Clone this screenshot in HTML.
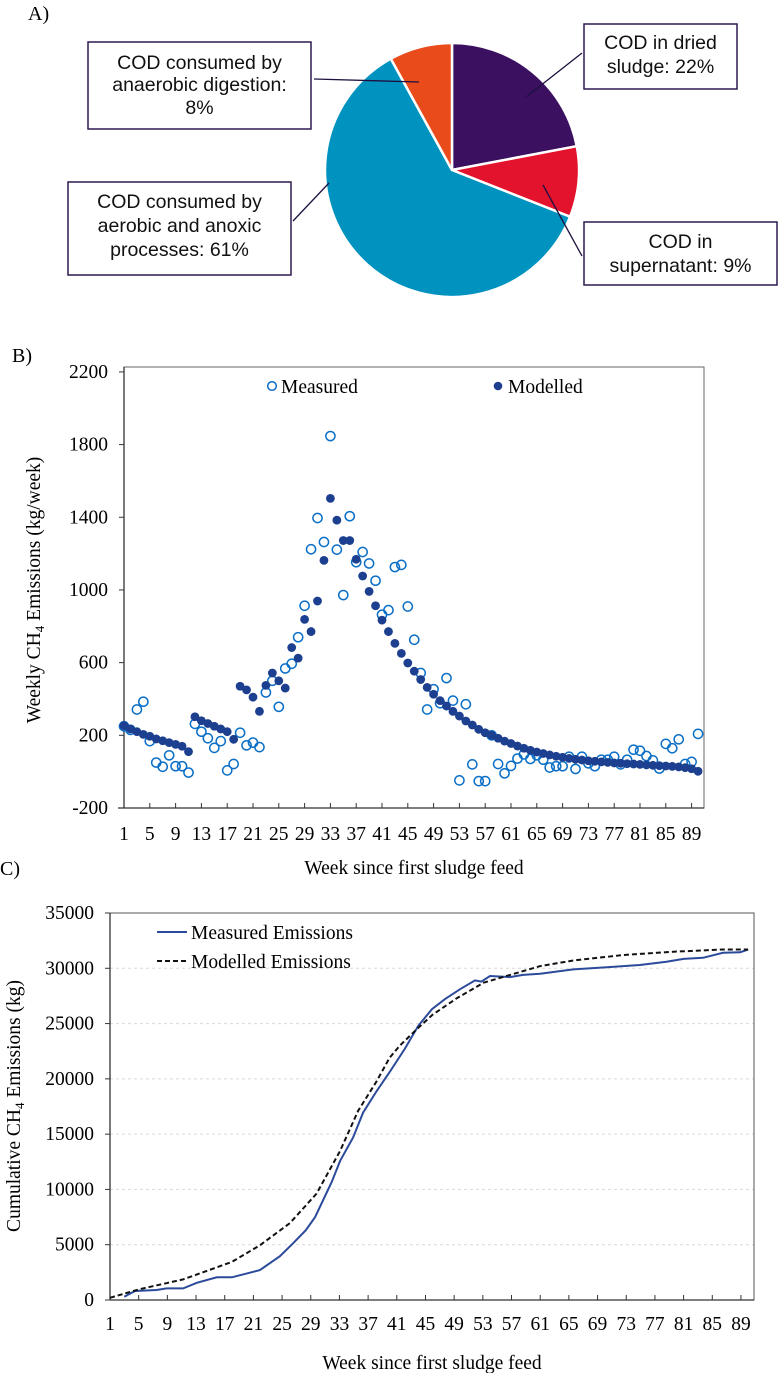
<!DOCTYPE html>
<html><head><meta charset="utf-8"><style>
html,body{margin:0;padding:0;background:#fff}
svg{display:block}
.serif{font-family:"Liberation Serif",serif}
.sans{font-family:"Liberation Sans",sans-serif}
</style></head><body>
<svg id="fig" width="778" height="1373" viewBox="0 0 778 1373" xmlns="http://www.w3.org/2000/svg">
<g id="panelA">
<text class="serif" x="28" y="20" font-size="20">A)</text>
<g id="pie"></g>
<line x1="314" y1="79" x2="419" y2="82" stroke="#1e1140" stroke-width="1.3"/>
<line x1="293" y1="221" x2="329" y2="183" stroke="#1e1140" stroke-width="1.3"/>
<line x1="582" y1="53" x2="526" y2="97" stroke="#1e1140" stroke-width="1.3"/>
<line x1="582" y1="256" x2="543" y2="185" stroke="#1e1140" stroke-width="1.3"/>
<g>
<rect x="88" y="42" width="223" height="87" fill="#fff" stroke="#2e1a4f" stroke-width="1.5"/>
<text class="sans" font-size="19.5" text-anchor="middle" fill="#111"><tspan x="199.5" y="69">COD consumed by</tspan><tspan x="199.5" y="91">anaerobic digestion:</tspan><tspan x="199.5" y="114">8%</tspan></text></g>
<g>
<rect x="68" y="182" width="223" height="93" fill="#fff" stroke="#2e1a4f" stroke-width="1.5"/>
<text class="sans" font-size="19.5" text-anchor="middle" fill="#111"><tspan x="179.5" y="208">COD consumed by</tspan><tspan x="179.5" y="232">aerobic and anoxic</tspan><tspan x="179.5" y="256">processes: 61%</tspan></text></g>
<g>
<rect x="584" y="24" width="153" height="65" fill="#fff" stroke="#2e1a4f" stroke-width="1.5"/>
<text class="sans" font-size="19.5" text-anchor="middle" fill="#111"><tspan x="660.5" y="49">COD in dried</tspan><tspan x="660.5" y="73">sludge: 22%</tspan></text></g>
<g>
<rect x="584" y="222" width="193" height="63" fill="#fff" stroke="#2e1a4f" stroke-width="1.5"/>
<text class="sans" font-size="19.5" text-anchor="middle" fill="#111"><tspan x="680.5" y="248">COD in</tspan><tspan x="680.5" y="272">supernatant: 9%</tspan></text></g>
</g>
<g id="panelB"></g>
<g id="panelC"></g>
</svg>
<script>
// ---------- Pie data ----------
const pieLabels = ["dried-sludge","supernatant","aerobic-anoxic","anaerobic"];
const pieValues = [22, 9, 61, 8];
const pieColors = ["#3b1060","#e3132e","#0093c0","#e94b1b"];

// ---------- Chart B data ----------
const bWeeks = Array.from({length:90},(_,i)=>i+1);
const bModelled = [253,235,220,205,195,180,170,160,150,140,110,302,280,265,250,235,220,178,470,450,410,332,475,543,500,460,683,625,838,771,939,1163,1504,1384,1272,1272,1169,1077,992,913,834,771,706,651,598,553,507,464,426,391,361,332,306,279,257,233,214,200,184,168,155,141,129,118,108,100,92,85,79,73,68,64,60,57,54,51,48,46,44,42,40,37,35,33,31,29,26,22,16,2];
const bMeasured = [250,230,342,385,168,50,27,90,30,30,-5,263,220,184,131,168,7,42,214,145,160,135,436,500,357,568,594,740,913,1224,1396,1264,1847,1222,972,1406,1153,1209,1146,1051,864,889,1126,1138,909,726,543,342,454,377,515,391,-48,371,40,-52,-52,200,42,-9,32,72,95,70,90,66,23,30,30,82,15,82,46,30,66,66,82,40,66,121,115,86,62,17,153,129,178,42,54,208];
const bYTicks = [-200,200,600,1000,1400,1800,2200];
const bXTicks = [1,5,9,13,17,21,25,29,33,37,41,45,49,53,57,61,65,69,73,77,81,85,89];

// ---------- Chart C data ----------
const cMeasWeeks = [3,4.5,7.5,8.9,11.2,13.1,15.9,18,21.9,24.7,26.5,28.3,29.6,31.9,33.1,34.9,36.3,38.2,40.1,42.1,44,45.9,47.7,49.8,51.9,52.8,54,56.8,58.6,61,65.6,70.3,74.9,78.6,81,83.7,86.5,88.9,90];
const cMeasured = [300,810,900,1050,1050,1560,2050,2050,2700,3960,5100,6300,7500,10650,12600,14700,16950,18900,20700,22700,24800,26300,27200,28100,28900,28800,29300,29200,29400,29500,29900,30100,30300,30600,30850,30950,31400,31450,31700];
const cModWeeks = [1,5,11.2,18,21.9,26.1,29.8,33.1,35.6,38.2,40,41.4,43.8,46,49.4,53.1,56.8,61,65.6,72.6,79.6,86.5,90];
const cModelled = [200,960,1860,3450,4950,6960,9610,13500,17100,19800,21900,23000,24500,25800,27300,28700,29400,30200,30700,31200,31500,31700,31700];
const cYTicks = [0,5000,10000,15000,20000,25000,30000,35000];
const cXTicks = [1,5,9,13,17,21,25,29,33,37,41,45,49,53,57,61,65,69,73,77,81,85,89];

const NS="http://www.w3.org/2000/svg";
const FS=19.5;
function mk(tag, attrs, parent){const e=document.createElementNS(NS,tag);for(const k in attrs)e.setAttribute(k,attrs[k]);parent.appendChild(e);return e;}

// ---------- Pie ----------
(function(){
  const g=document.getElementById('pie');
  const cx=452, cy=170, r=127;
  const total=pieValues.reduce((a,b)=>a+b,0);
  let a0=-Math.PI/2;
  pieValues.forEach((v,i)=>{
    const a1=a0+v/total*2*Math.PI;
    const x0=cx+r*Math.cos(a0), y0=cy+r*Math.sin(a0), x1=cx+r*Math.cos(a1), y1=cy+r*Math.sin(a1);
    const large=(a1-a0)>Math.PI?1:0;
    const p=mk('path',{d:`M${cx},${cy} L${x0},${y0} A${r},${r} 0 ${large} 1 ${x1},${y1} Z`,fill:pieColors[i],stroke:'#fff','stroke-width':2.5},g);
    
    
    a0=a1;
  });
})();

// ---------- Chart B ----------
(function(){
  const g=document.getElementById('panelB');
  const L=124,R=704,T=367,B=808;
  const x=w=>L+(w-1)*6.45;
  const y=v=>B-(v+200)*0.1817;
  let t=mk('text',{x:12,y:362,'font-size':20,class:'serif'},g); t.textContent='B)';
   
  const frame=mk('rect',{x:L,y:T,width:R-L,height:B-T,fill:'none',stroke:'#666','stroke-width':1},g);
   
  mk('line',{x1:L-6,y1:B,x2:R,y2:B,stroke:'#333','stroke-width':1.3},g);
  mk('line',{x1:L,y1:T,x2:L,y2:B,stroke:'#333','stroke-width':1.3},g);
  bYTicks.forEach(v=>{
    mk('line',{x1:L-5,y1:y(v),x2:L,y2:y(v),stroke:'#333'},g);
    const tt=mk('text',{x:L-16,y:y(v)+6,'text-anchor':'end','font-size':FS,class:'serif'},g); tt.textContent=v;
     
  });
  bXTicks.forEach(w=>{
    mk('line',{x1:x(w),y1:B,x2:x(w),y2:B-5,stroke:'#333'},g);
    const tt=mk('text',{x:x(w),y:840,'text-anchor':'middle','font-size':FS,class:'serif'},g); tt.textContent=w;
     
  });
  let xt=mk('text',{x:414,y:874,'text-anchor':'middle','font-size':FS,class:'serif'},g); xt.textContent='Week since first sludge feed';
   
  let yt=mk('text',{x:0,y:0,'text-anchor':'middle','font-size':FS,class:'serif',transform:'translate(40,590) rotate(-90)'},g);
  yt.innerHTML='Weekly CH<tspan font-size="13" dy="4">4</tspan><tspan dy="-4"> Emissions (kg/week)</tspan>';
   
  bWeeks.forEach((w,i)=>{
    const c=mk('circle',{cx:x(w),cy:y(bMeasured[i]),r:4.6,fill:'none',stroke:'#0b6fc6','stroke-width':1.5},g);
     
  });
  bWeeks.forEach((w,i)=>{
    const c=mk('circle',{cx:x(w),cy:y(bModelled[i]),r:4.4,fill:'#1d3f8f'},g);
     
  });
  const lg=mk('g',{},g);  
  mk('circle',{cx:272,cy:386,r:4.3,fill:'#fff',stroke:'#0b6fc6','stroke-width':1.5},lg);
  let l1=mk('text',{x:281,y:393,'font-size':FS,class:'serif'},lg); l1.textContent='Measured';
   
  mk('circle',{cx:498,cy:386,r:4.3,fill:'#1d3f8f'},lg);
  let l2=mk('text',{x:508,y:393,'font-size':FS,class:'serif'},lg); l2.textContent='Modelled';
   
})();

// ---------- Chart C ----------
(function(){
  const g=document.getElementById('panelC');
  const L=110,R=754,T=913,B=1300;
  const x=w=>L+(w-1)*7.17;
  const y=v=>B-v*(387/35000);
  let t=mk('text',{x:0,y:875,'font-size':20,class:'serif'},g); t.textContent='C)';
   
  cYTicks.forEach(v=>{
    if(v>0&&v<35000) mk('line',{x1:L,y1:y(v),x2:R,y2:y(v),stroke:'#d9d9d9','stroke-dasharray':'3,3'},g);
    mk('line',{x1:L-5,y1:y(v),x2:L,y2:y(v),stroke:'#333'},g);
    const tt=mk('text',{x:L-16,y:y(v)+6,'text-anchor':'end','font-size':FS,class:'serif'},g); tt.textContent=v;
     
  });
  const frame=mk('rect',{x:L,y:T,width:R-L,height:B-T,fill:'none',stroke:'#555','stroke-width':1},g);
   
  mk('line',{x1:L,y1:B,x2:R,y2:B,stroke:'#333','stroke-width':1.3},g);
  mk('line',{x1:L,y1:T,x2:L,y2:B,stroke:'#333','stroke-width':1.3},g);
  cXTicks.forEach(w=>{
    mk('line',{x1:x(w),y1:B,x2:x(w),y2:B-5,stroke:'#333'},g);
    const tt=mk('text',{x:x(w),y:1330,'text-anchor':'middle','font-size':FS,class:'serif'},g); tt.textContent=w;
     
  });
  let xt=mk('text',{x:432,y:1369,'text-anchor':'middle','font-size':FS,class:'serif'},g); xt.textContent='Week since first sludge feed';
   
  let yt=mk('text',{x:0,y:0,'text-anchor':'middle','font-size':FS,class:'serif',transform:'translate(20,1106) rotate(-90)'},g);
  yt.innerHTML='Cumulative CH<tspan font-size="13" dy="4">4</tspan><tspan dy="-4"> Emissions (kg)</tspan>';
   
  const pm=cMeasWeeks.map((w,i)=>x(w).toFixed(1)+','+y(cMeasured[i]).toFixed(1)).join(' ');
  const l1=mk('polyline',{points:pm,fill:'none',stroke:'#2b4a9a','stroke-width':2},g);
   
  const pd=cModWeeks.map((w,i)=>x(w).toFixed(1)+','+y(cModelled[i]).toFixed(1)).join(' ');
  const l2=mk('polyline',{points:pd,fill:'none',stroke:'#111','stroke-width':2,'stroke-dasharray':'5,3'},g);
   
  const lg=mk('g',{},g);  
  mk('line',{x1:157,y1:932,x2:187,y2:932,stroke:'#2b4a9a','stroke-width':2},lg);
  let a=mk('text',{x:191,y:939,'font-size':FS,class:'serif'},lg); a.textContent='Measured Emissions';
   
  mk('line',{x1:157,y1:961,x2:187,y2:961,stroke:'#111','stroke-width':2,'stroke-dasharray':'5,3'},lg);
  let b=mk('text',{x:191,y:968,'font-size':FS,class:'serif'},lg); b.textContent='Modelled Emissions';
   
})();
</script>
</body></html>
